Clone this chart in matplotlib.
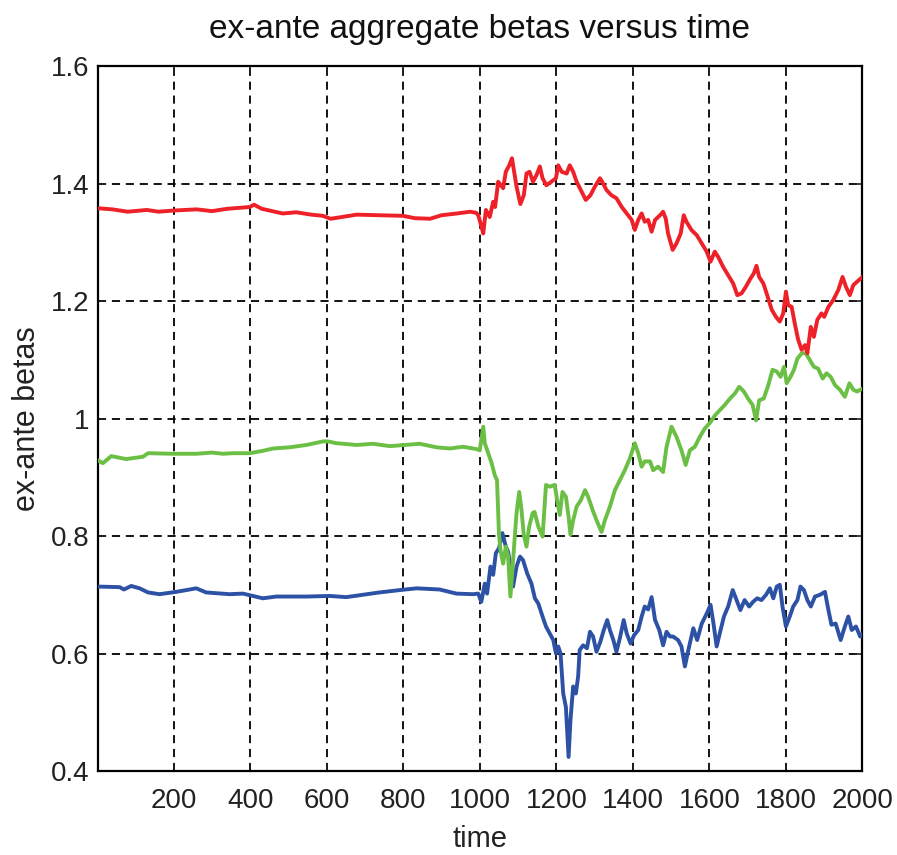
import matplotlib
matplotlib.use("Agg")
import matplotlib.pyplot as plt

plt.rcParams['font.family'] = ['Liberation Sans', 'DejaVu Sans']

# time stamps and ex-ante beta readings for each portfolio
red_t = [1, 40, 80, 130, 160, 200, 260, 300, 340, 399, 410, 430, 485, 520, 560, 590, 610, 640,
         678, 740, 799, 830, 870, 900, 940, 975, 991, 996, 1003, 1009, 1016, 1026, 1035, 1040,
         1048, 1061, 1068, 1077, 1084, 1089, 1096, 1106, 1115, 1122, 1130, 1139, 1148, 1157,
         1164, 1174, 1187, 1199, 1205, 1214, 1227, 1235, 1244, 1253, 1266, 1277, 1289, 1301,
         1314, 1318, 1331, 1344, 1357, 1371, 1384, 1397, 1405, 1414, 1423, 1431, 1440, 1449,
         1458, 1471, 1479, 1486, 1492, 1504, 1514, 1525, 1533, 1540, 1553, 1567, 1580, 1593,
         1603, 1614, 1623, 1636, 1649, 1662, 1673, 1684, 1695, 1708, 1716, 1723, 1730, 1741,
         1751, 1763, 1774, 1784, 1793, 1800, 1806, 1815, 1823, 1832, 1841, 1850, 1856, 1865,
         1873, 1882, 1893, 1900, 1911, 1924, 1937, 1948, 1957, 1967, 1976, 1986, 2000]
red_v = [1.358, 1.356, 1.352, 1.355, 1.352, 1.354, 1.356, 1.353, 1.357, 1.360, 1.364, 1.357,
         1.349, 1.351, 1.347, 1.345, 1.340, 1.343, 1.347, 1.346, 1.345, 1.341, 1.340, 1.346,
         1.349, 1.352, 1.350, 1.346, 1.330, 1.315, 1.355, 1.343, 1.369, 1.360, 1.403, 1.392,
         1.420, 1.431, 1.443, 1.423, 1.395, 1.365, 1.380, 1.417, 1.420, 1.403, 1.414, 1.429,
         1.409, 1.397, 1.403, 1.409, 1.431, 1.420, 1.417, 1.431, 1.420, 1.403, 1.386, 1.372,
         1.380, 1.395, 1.409, 1.405, 1.389, 1.380, 1.375, 1.360, 1.349, 1.338, 1.321, 1.338,
         1.349, 1.335, 1.338, 1.318, 1.338, 1.346, 1.352, 1.340, 1.315, 1.287, 1.298, 1.315,
         1.346, 1.335, 1.321, 1.312, 1.298, 1.284, 1.267, 1.284, 1.275, 1.258, 1.244, 1.230,
         1.210, 1.213, 1.224, 1.239, 1.247, 1.260, 1.241, 1.230, 1.210, 1.185, 1.173, 1.165,
         1.179, 1.216, 1.193, 1.190, 1.162, 1.134, 1.117, 1.125, 1.111, 1.156, 1.139, 1.168,
         1.179, 1.173, 1.190, 1.202, 1.219, 1.241, 1.224, 1.210, 1.227, 1.233, 1.241]

green_t = [1, 15, 37, 76, 120, 133, 198, 259, 300, 329, 354, 399, 433, 460, 503, 547, 590,
           603, 625, 678, 721, 765, 843, 887, 922, 956, 991, 1000, 1009, 1013, 1022, 1031,
           1039, 1045, 1050, 1054, 1061, 1068, 1074, 1080, 1087, 1096, 1103, 1109, 1115,
           1122, 1129, 1138, 1143, 1153, 1164, 1173, 1183, 1196, 1202, 1209, 1216, 1225,
           1232, 1237, 1244, 1253, 1264, 1275, 1283, 1295, 1305, 1318, 1327, 1340, 1353,
           1366, 1379, 1392, 1405, 1414, 1423, 1431, 1445, 1453, 1466, 1479, 1488, 1501,
           1514, 1527, 1538, 1549, 1562, 1575, 1588, 1603, 1614, 1627, 1640, 1654, 1667,
           1678, 1690, 1701, 1713, 1722, 1730, 1742, 1754, 1765, 1776, 1786, 1795, 1802,
           1812, 1821, 1830, 1841, 1852, 1862, 1873, 1884, 1896, 1906, 1917, 1928, 1941,
           1954, 1966, 1976, 1986, 2000]
green_v = [0.929, 0.924, 0.936, 0.931, 0.935, 0.941, 0.940, 0.940, 0.942, 0.940, 0.941,
           0.941, 0.945, 0.949, 0.951, 0.955, 0.961, 0.961, 0.958, 0.955, 0.957, 0.953,
           0.957, 0.951, 0.949, 0.952, 0.948, 0.946, 0.986, 0.958, 0.941, 0.924, 0.904,
           0.895, 0.805, 0.776, 0.753, 0.782, 0.765, 0.697, 0.759, 0.839, 0.875, 0.844,
           0.802, 0.782, 0.816, 0.839, 0.841, 0.816, 0.799, 0.887, 0.884, 0.887, 0.861,
           0.836, 0.875, 0.867, 0.833, 0.802, 0.827, 0.850, 0.861, 0.878, 0.867, 0.844,
           0.827, 0.807, 0.827, 0.850, 0.878, 0.895, 0.912, 0.932, 0.958, 0.941, 0.918,
           0.927, 0.927, 0.912, 0.918, 0.909, 0.952, 0.986, 0.969, 0.946, 0.921, 0.946,
           0.952, 0.969, 0.983, 0.994, 1.005, 1.014, 1.023, 1.034, 1.043, 1.054, 1.046,
           1.034, 1.023, 0.997, 1.031, 1.034, 1.057, 1.083, 1.080, 1.071, 1.088, 1.060,
           1.071, 1.083, 1.102, 1.111, 1.111, 1.100, 1.088, 1.085, 1.068, 1.077, 1.071,
           1.057, 1.049, 1.037, 1.060, 1.049, 1.046, 1.051]

blue_t = [1, 59, 70, 89, 111, 133, 163, 207, 259, 285, 346, 381, 407, 433, 468, 547, 608,
          651, 695, 738, 791, 835, 895, 939, 983, 996, 1004, 1013, 1019, 1028, 1035, 1042,
          1050, 1059, 1068, 1074, 1080, 1087, 1096, 1105, 1113, 1124, 1135, 1144, 1153,
          1164, 1173, 1183, 1192, 1199, 1205, 1211, 1218, 1225, 1232, 1237, 1244, 1251,
          1257, 1261, 1270, 1280, 1288, 1296, 1305, 1315, 1324, 1333, 1340, 1349, 1357,
          1366, 1376, 1384, 1394, 1403, 1414, 1423, 1431, 1440, 1449, 1458, 1469, 1479,
          1488, 1497, 1505, 1518, 1527, 1536, 1545, 1558, 1568, 1580, 1593, 1603, 1610,
          1619, 1627, 1638, 1649, 1661, 1671, 1681, 1692, 1704, 1714, 1725, 1736, 1748,
          1758, 1767, 1776, 1784, 1791, 1800, 1810, 1819, 1830, 1838, 1847, 1856, 1865,
          1876, 1889, 1902, 1911, 1919, 1930, 1943, 1954, 1963, 1972, 1983, 1994, 2000]
blue_v = [0.714, 0.713, 0.709, 0.715, 0.711, 0.704, 0.701, 0.705, 0.711, 0.704, 0.701,
          0.702, 0.698, 0.694, 0.697, 0.697, 0.698, 0.696, 0.700, 0.704, 0.708, 0.711,
          0.709, 0.702, 0.701, 0.702, 0.688, 0.719, 0.702, 0.748, 0.734, 0.771, 0.779,
          0.805, 0.782, 0.773, 0.748, 0.714, 0.748, 0.765, 0.759, 0.736, 0.719, 0.694,
          0.685, 0.663, 0.646, 0.634, 0.623, 0.600, 0.612, 0.600, 0.532, 0.509, 0.424,
          0.487, 0.544, 0.532, 0.561, 0.606, 0.614, 0.609, 0.637, 0.629, 0.603, 0.620,
          0.640, 0.657, 0.640, 0.623, 0.603, 0.626, 0.657, 0.634, 0.617, 0.631, 0.640,
          0.663, 0.680, 0.675, 0.696, 0.657, 0.640, 0.614, 0.637, 0.629, 0.629, 0.623,
          0.612, 0.578, 0.606, 0.643, 0.623, 0.651, 0.668, 0.683, 0.654, 0.612, 0.634,
          0.663, 0.680, 0.708, 0.691, 0.674, 0.691, 0.680, 0.688, 0.694, 0.691, 0.700,
          0.711, 0.694, 0.714, 0.717, 0.680, 0.646, 0.663, 0.680, 0.691, 0.714, 0.708,
          0.691, 0.680, 0.697, 0.700, 0.705, 0.674, 0.649, 0.651, 0.623, 0.646, 0.663,
          0.640, 0.646, 0.629, 0.633]

x_ticks = [200, 400, 600, 800, 1000, 1200, 1400, 1600, 1800, 2000]
y_ticks = [0.4, 0.6, 0.8, 1.0, 1.2, 1.4, 1.6]
y_tick_labels = ['0.4', '0.6', '0.8', '1', '1.2', '1.4', '1.6']

fig = plt.figure(figsize=(8.97, 8.55), dpi=100)
ax = fig.add_axes([0.1087, 0.0982, 0.8528, 0.8246])

ax.plot(blue_t, blue_v, color='#2d52a5', lw=2.8, zorder=3)
ax.plot(green_t, green_v, color='#6cbf45', lw=2.8, zorder=4)
ax.plot(red_t, red_v, color='#ee2028', lw=2.8, zorder=5)

ax.set_xlim(1, 2000)
ax.set_ylim(0.4, 1.6)
ax.set_xticks(x_ticks)
ax.set_yticks(y_ticks)
ax.set_yticklabels(y_tick_labels)

ax.grid(True, color='black', linestyle=(0, (4.5, 3.2)), linewidth=1.3)
ax.set_axisbelow(True)
ax.tick_params(direction='in', top=True, right=True, length=6, width=1.2,
               labelsize=20, colors='#222222')
ax.tick_params(axis='x', pad=12)
ax.tick_params(axis='y', pad=6)
for s in ax.spines.values():
    s.set_linewidth(1.6)
    s.set_color('black')

ax.set_title('ex-ante aggregate betas versus time', fontsize=24, pad=20, color='#111111')
ax.set_xlabel('time', fontsize=21, labelpad=8, color='#222222')
ax.set_ylabel('ex-ante betas', fontsize=22, labelpad=6, color='#222222')

fig.savefig('out.png', dpi=100)
